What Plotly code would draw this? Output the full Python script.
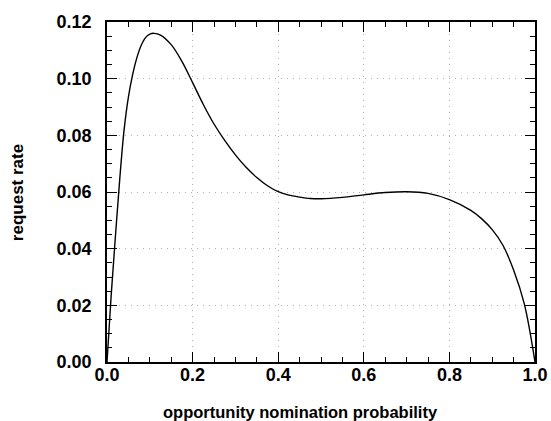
import plotly.graph_objects as go

# Data
prob = [0.0, 0.01, 0.02, 0.03, 0.04, 0.05, 0.06, 0.07, 0.08, 0.09,
        0.10, 0.11, 0.125, 0.15, 0.175, 0.20, 0.225, 0.25, 0.275, 0.30,
        0.325, 0.35, 0.375, 0.40, 0.425, 0.45, 0.475, 0.50, 0.55, 0.60,
        0.65, 0.70, 0.75, 0.80, 0.85, 0.875, 0.90, 0.925, 0.95, 0.975, 1.0]
rate = [0.0, 0.024, 0.045, 0.065, 0.082, 0.0935, 0.1015, 0.1075, 0.1118, 0.1145,
        0.1157, 0.1160, 0.1154, 0.1120, 0.1061, 0.0986, 0.0909, 0.0840, 0.0782, 0.0731,
        0.0687, 0.0651, 0.0622, 0.0601, 0.0589, 0.0582, 0.0577, 0.0576, 0.0581, 0.0590,
        0.0598, 0.0601, 0.0595, 0.0573, 0.0535, 0.0506, 0.0467, 0.0412, 0.0325, 0.0205, 0.0]

x_ticks = [0.0, 0.2, 0.4, 0.6, 0.8, 1.0]
x_tick_labels = ["0.0", "0.2", "0.4", "0.6", "0.8", "1.0"]
y_ticks = [0.00, 0.02, 0.04, 0.06, 0.08, 0.10, 0.12]
y_tick_labels = ["0.00", "0.02", "0.04", "0.06", "0.08", "0.10", "0.12"]
x_title = "opportunity nomination probability"
y_title = "request rate"

font_family = "Liberation Sans, Arial, sans-serif"

fig = go.Figure()
fig.add_trace(go.Scatter(x=prob, y=rate, mode="lines",
                         line=dict(color="black", width=1.4, shape="spline", smoothing=1.0),
                         showlegend=False, hoverinfo="skip"))

axis_common = dict(
    showline=True, linecolor="black", linewidth=1.5, mirror="allticks",
    ticks="inside", ticklen=10, tickwidth=1.3, tickcolor="black",
    showgrid=True, gridcolor="#b0b0b0", gridwidth=1, griddash="1px,5px",
    zeroline=False, automargin=False,
    tickfont=dict(family=font_family, size=18, color="black", weight="bold"),
)

fig.update_xaxes(
    range=[0, 1], tickvals=x_ticks, ticktext=x_tick_labels,
    minor=dict(dtick=0.05, ticks="inside", ticklen=5, tickwidth=1.2, tickcolor="black", showgrid=False),
    ticklabelstandoff=-4,
    **axis_common,
)
fig.update_yaxes(
    range=[0, 0.12], tickvals=y_ticks, ticktext=y_tick_labels,
    minor=dict(dtick=0.005, ticks="inside", ticklen=5, tickwidth=1.2, tickcolor="black", showgrid=False),
    ticklabelstandoff=10,
    **axis_common,
)

fig.add_annotation(text="<b>" + x_title + "</b>", xref="paper", yref="paper",
                   x=0.451, y=-0.147, xanchor="center", yanchor="middle", showarrow=False,
                   font=dict(family=font_family, size=16.5, color="black"))
fig.add_annotation(text="<b>" + y_title + "</b>", xref="paper", yref="paper",
                   x=-0.210, y=0.497, xanchor="center", yanchor="middle", showarrow=False,
                   textangle=-90,
                   font=dict(family=font_family, size=17, color="black"))

fig.update_layout(
    width=551, height=421,
    margin=dict(l=107, r=16, t=22, b=59),
    paper_bgcolor="white", plot_bgcolor="white",
)

fig.write_html("out.html")
